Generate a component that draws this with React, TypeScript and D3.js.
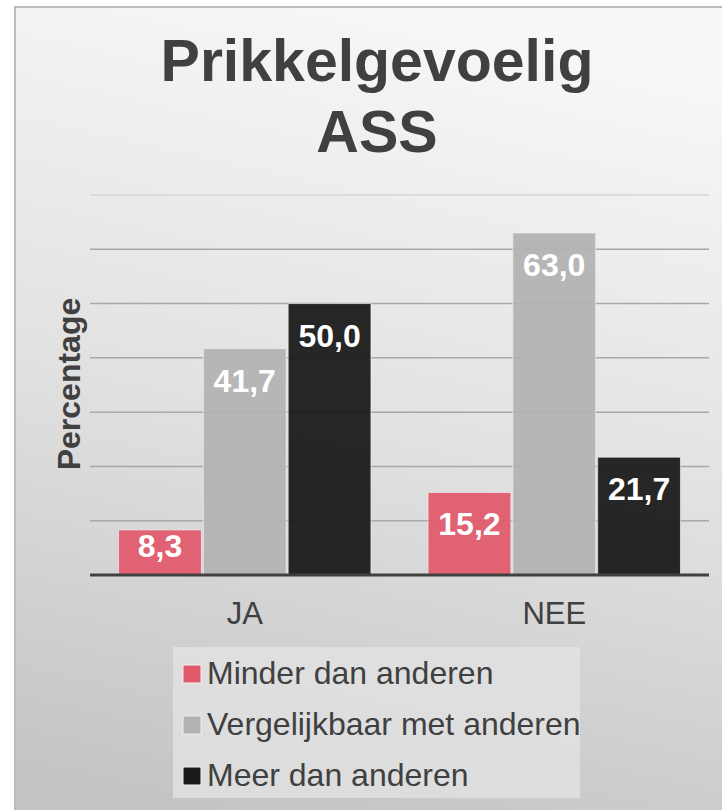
import React from "react";
import * as d3 from "d3";

const categories = ["JA", "NEE"];
const series = ["Minder dan anderen", "Vergelijkbaar met anderen", "Meer dan anderen"];
const colors = ["#e05a6c", "#b2b2b2", "#1a1a1a"];
const values = [
    [8.3, 41.7, 50.0], // JA
    [15.2, 63.0, 21.7], // NEE
];
const yTicks = [0, 10, 20, 30, 40, 50, 60, 70];
const titleLines = ["Prikkelgevoelig", "ASS"];

const W = 722;
const H = 810;
const plot = {left: 90, right: 709, top: 195, bottom: 575};
const font = "'Liberation Sans', Arial, sans-serif";

export default function App()
{
    const yScale = d3.scaleLinear().domain([0, 70]).range([plot.bottom, plot.top]);

    const x0 = d3
        .scaleBand()
        .domain(categories)
        .range([plot.left, plot.right])
        .paddingInner(0.178)
        .paddingOuter(0.089);

    const x1 = d3
        .scaleBand()
        .domain(series)
        .range([0, x0.bandwidth()])
        .padding(0);

    const fmt = (v: number) => v.toFixed(1).replace(".", ",");

    return (
        <svg width={W} height={H} style={{position: "absolute", left: 0, top: 0}} fontFamily={font}>
            <defs>
                <linearGradient id="bg" x1="0.6" y1="0" x2="0.4" y2="1">
                    <stop offset="0" stopColor="#f8f8f8"/>
                    <stop offset="0.5" stopColor="#e2e2e2"/>
                    <stop offset="1" stopColor="#c4c4c4"/>
                </linearGradient>
            </defs>
            <rect x={0} y={0} width={W} height={H} fill="#ffffff"/>
            <rect x={15} y={7} width={W + 20} height={H + 20} fill="url(#bg)" stroke="#bdbdbd" strokeWidth={2}/>

            {/* title */}
            {titleLines.map((t, i) => (
                <text key={t} x={377} y={81 + i * 71} textAnchor="middle" fontSize={59}
                      fontWeight="bold" fill="#404040">{t}</text>
            ))}

            {/* gridlines */}
            {yTicks.filter((t) => t > 0).map((t) => (
                <line key={t} x1={plot.left} x2={plot.right} y1={yScale(t)} y2={yScale(t)}
                      stroke={t === 70 ? "#d6d6d6" : "#a8a8a8"} strokeWidth={1.5}/>
            ))}

            {/* bars */}
            {categories.map((c, ci) => (
                <g key={c} transform={`translate(${x0(c)},0)`}>
                    {series.map((s, si) => {
                        const v = values[ci][si];
                        const top = yScale(v);
                        const labelY = Math.min(top + 43, yScale(0) - 18);
                        return (
                            <g key={s}>
                                <rect x={x1(s)! + 1} y={top} width={x1.bandwidth() - 2}
                                      height={yScale(0) - top} fill={colors[si]} fillOpacity={0.94}
                                      stroke="#eeeeee" strokeOpacity={0.7} strokeWidth={1}/>
                                <text x={x1(s)! + x1.bandwidth() / 2} y={labelY} textAnchor="middle"
                                      fontSize={32} fontWeight="bold" fill="#ffffff">{fmt(v)}</text>
                            </g>
                        );
                    })}
                </g>
            ))}

            {/* axis line */}
            <line x1={plot.left} x2={plot.right} y1={yScale(0)} y2={yScale(0)} stroke="#404040" strokeWidth={3}/>

            {/* category labels */}
            {categories.map((c) => (
                <text key={c} x={x0(c)! + x0.bandwidth() / 2} y={624} textAnchor="middle"
                      fontSize={31} fill="#404040">{c}</text>
            ))}

            {/* y axis title */}
            <text transform={`translate(80, ${(plot.top + plot.bottom) / 2 - 1}) rotate(-90)`} textAnchor="middle"
                  fontSize={32} fontWeight="bold" fill="#404040">Percentage</text>

            {/* legend */}
            <rect x={173} y={647} width={407} height={151} fill="#e2e2e2" fillOpacity={0.8}/>
            {series.map((s, i) => (
                <g key={s} transform={`translate(183, ${665 + i * 51})`}>
                    <rect x={0} y={0} width={18} height={18} fill={colors[i]} stroke="#f0f0f0" strokeWidth={1}/>
                    <text x={24} y={19} fontSize={32} fill="#404040">{s}</text>
                </g>
            ))}
        </svg>
    );
}
